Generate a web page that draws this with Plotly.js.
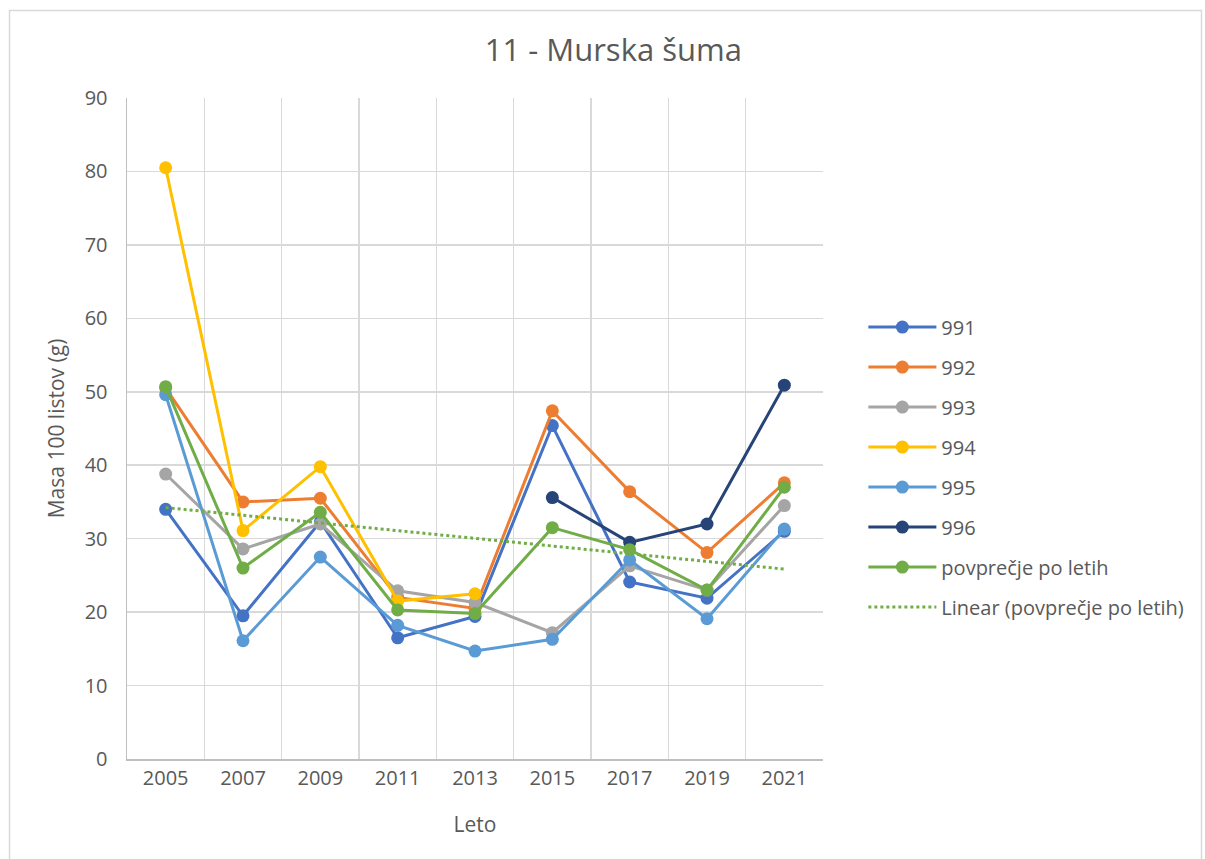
<!DOCTYPE html>
<html>
<head>
<meta charset="utf-8">
<script src="https://cdn.plot.ly/plotly-3.0.1.min.js"></script>
<style>
html,body{margin:0;padding:0;background:#fff;}
#chart{width:1205px;height:859px;}
</style>
</head>
<body>
<div id="chart"></div>
<script>
const years = ["2005","2007","2009","2011","2013","2015","2017","2019","2021"];
const s991 = [34.0, 19.5, 32.3, 16.5, 19.4, 45.4, 24.1, 21.9, 31.0];
const s992 = [50.5, 35.0, 35.5, 22.0, 20.5, 47.4, 36.4, 28.1, 37.6];
const s993 = [38.8, 28.6, 32.0, 22.9, 21.3, 17.2, 26.3, 23.0, 34.5];
const s994 = [80.5, 31.1, 39.8, 21.5, 22.5, null, null, null, null];
const s995 = [49.6, 16.1, 27.5, 18.2, 14.7, 16.3, 27.1, 19.1, 31.3];
const s996 = [null, null, null, null, null, 35.6, 29.5, 32.0, 50.9];
const avg  = [50.7, 26.0, 33.6, 20.3, 19.8, 31.5, 28.5, 23.0, 37.0];
const seriesNames = ["991","992","993","994","995","996","povprečje po letih"];
const trendName = "Linear (povprečje po letih)";

// least-squares trend of the yearly average (as Excel's linear trendline)
const n = avg.length;
const xs = avg.map((_, i) => i);
const mx = xs.reduce((a, b) => a + b, 0) / n;
const my = avg.reduce((a, b) => a + b, 0) / n;
let num = 0, den = 0;
xs.forEach((x, i) => { num += (x - mx) * (avg[i] - my); den += (x - mx) * (x - mx); });
const slope = num / den;
const trend = xs.map(x => my + slope * (x - mx));

const colors = ["#4472C4","#ED7D31","#A5A5A5","#FFC000","#5B9BD5","#264478","#70AD47"];
const data = [s991, s992, s993, s994, s995, s996, avg];

const traces = data.map((d, i) => ({
  type: "scatter", mode: "lines+markers",
  x: years, y: d, name: seriesNames[i],
  legendgroup: "g" + i,
  line: {color: colors[i], width: 3},
  marker: {color: colors[i], size: 13},
  connectgaps: false
}));
traces.push({
  type: "scatter", mode: "lines", x: years, y: trend, name: trendName,
  legendgroup: "g7",
  line: {color: "#70AD47", width: 3, dash: "dot"}
});

const fontFam = "'Open Sans', 'Noto Sans', sans-serif";
const layout = {
  width: 1205, height: 859,
  margin: {l: 127, r: 382, t: 98, b: 100},
  paper_bgcolor: "#fff", plot_bgcolor: "#fff",
  font: {family: fontFam, color: "#595959", size: 20},
  title: {text: "11 - Murska šuma", font: {family: fontFam, size: 31, color: "#595959"},
          x: 0.509, xref: "container", xanchor: "center", y: 0.942, yref: "container", yanchor: "middle"},
  xaxis: {
    type: "category", tickson: "boundaries", range: [-0.5, 8.5],
    showgrid: true, gridcolor: "#d9d9d9", gridwidth: 1.5,
    showline: true, linecolor: "#bfbfbf", linewidth: 1.5, ticks: "",
    tickfont: {size: 20, color: "#595959"},
    title: {text: "Leto", font: {size: 21, color: "#595959"}, standoff: 28},
    fixedrange: true
  },
  yaxis: {
    range: [0, 90], dtick: 10, showgrid: true, gridcolor: "#d9d9d9", gridwidth: 1.5,
    showline: true, linecolor: "#bfbfbf", linewidth: 1.5, zeroline: false, ticks: "",
    tickfont: {size: 20, color: "#595959"}, ticklabelstandoff: 14,
    title: {text: "Masa 100 listov (g)", font: {size: 21, color: "#595959"}, standoff: 14},
    fixedrange: true
  },
  legend: {
    x: 1.058, xanchor: "left", y: 0.683, yanchor: "top",
    font: {size: 20, color: "#595959"}, tracegroupgap: 11, itemwidth: 68,
    bgcolor: "rgba(0,0,0,0)"
  },
  showlegend: true,
  shapes: [{
    type: "rect", xref: "paper", yref: "paper",
    x0: (9.5 - 127) / 696, x1: (1201.5 - 127) / 696,
    y0: (759 - 880) / 661, y1: (759 - 10.5) / 661,
    line: {color: "#d9d9d9", width: 1.5}, fillcolor: "rgba(0,0,0,0)", layer: "below"
  }]
};

Plotly.newPlot("chart", traces, layout, {displayModeBar: false, staticPlot: true});
</script>
</body>
</html>
